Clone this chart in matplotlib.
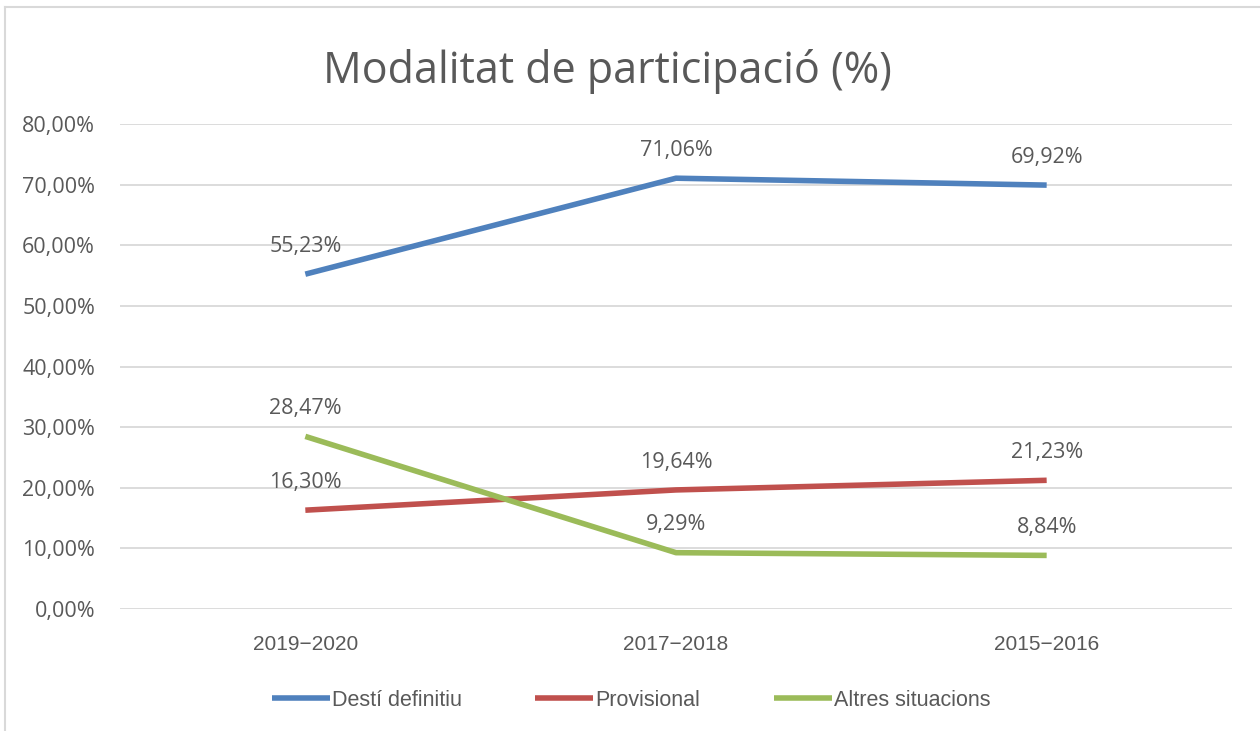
import matplotlib.pyplot as plt
from matplotlib.lines import Line2D

periods = ["2019\u22122020", "2017\u22122018", "2015\u22122016"]
desti_definitiu = [55.23, 71.06, 69.92]
provisional = [16.30, 19.64, 21.23]
altres_situacions = [28.47, 9.29, 8.84]
series_names = ["Destí definitiu", "Provisional", "Altres situacions"]
y_ticks = [0, 10, 20, 30, 40, 50, 60, 70, 80]

colors = ["#4F81BD", "#C0504D", "#9BBB59"]
txt = "#595959"
main_font = ["Open Sans", "DejaVu Sans"]
narrow_font = ["Liberation Sans", "DejaVu Sans"]


def pct(v):
    return f"{v:.2f}".replace(".", ",") + "%"


fig = plt.figure(figsize=(12.6, 7.31), dpi=100)
ax = fig.add_axes([120 / 1260, 1 - 609 / 731, 1112 / 1260, 485 / 731])

x = list(range(len(periods)))
for vals, name, c in zip([desti_definitiu, provisional, altres_situacions], series_names, colors):
    ax.plot(x, vals, color=c, lw=4, label=name, solid_capstyle="butt",
            solid_joinstyle="round", zorder=3)
    for xi, v in zip(x, vals):
        ax.annotate(pct(v), (xi, v), xytext=(0, 20), textcoords="offset points",
                    ha="center", va="center", fontsize=15.5, color=txt, family=main_font)

ax.set_xlim(-0.5, 2.5)
ax.set_ylim(0, 80)
ax.set_yticks(y_ticks)
ax.set_yticklabels([pct(v) for v in y_ticks], family=main_font, fontsize=15.5, color=txt)
ax.set_xticks(x)
ax.set_xticklabels(periods, family=narrow_font, fontsize=15, color=txt)
ax.tick_params(axis="y", length=0, pad=18)
ax.tick_params(axis="x", length=0, pad=19)
ax.grid(axis="y", color="#d9d9d9", lw=1.3)
ax.set_axisbelow(True)
for s in ax.spines.values():
    s.set_visible(False)

fig.text(607 / 1260, 1 - 71 / 731, "Modalitat de participació (%)", ha="center", va="center",
         fontsize=31, color=txt, family=main_font)

leg = fig.legend(loc="center", bbox_to_anchor=(631 / 1260, 1 - 700 / 731), ncol=3, frameon=False,
                 handlelength=2.7, handletextpad=0.1, columnspacing=3.4,
                 prop={"family": narrow_font, "size": 15.5})
for t in leg.get_texts():
    t.set_color(txt)
for h in leg.legend_handles:
    h.set_linewidth(4)

# chart frame
fig.add_artist(Line2D([5 / 1260, 1], [1 - 7 / 731] * 2, transform=fig.transFigure, color="#d9d9d9", lw=1.5))
fig.add_artist(Line2D([5 / 1260] * 2, [0, 1 - 7 / 731], transform=fig.transFigure, color="#d9d9d9", lw=1.5))

fig.savefig("out.png", dpi=100)
